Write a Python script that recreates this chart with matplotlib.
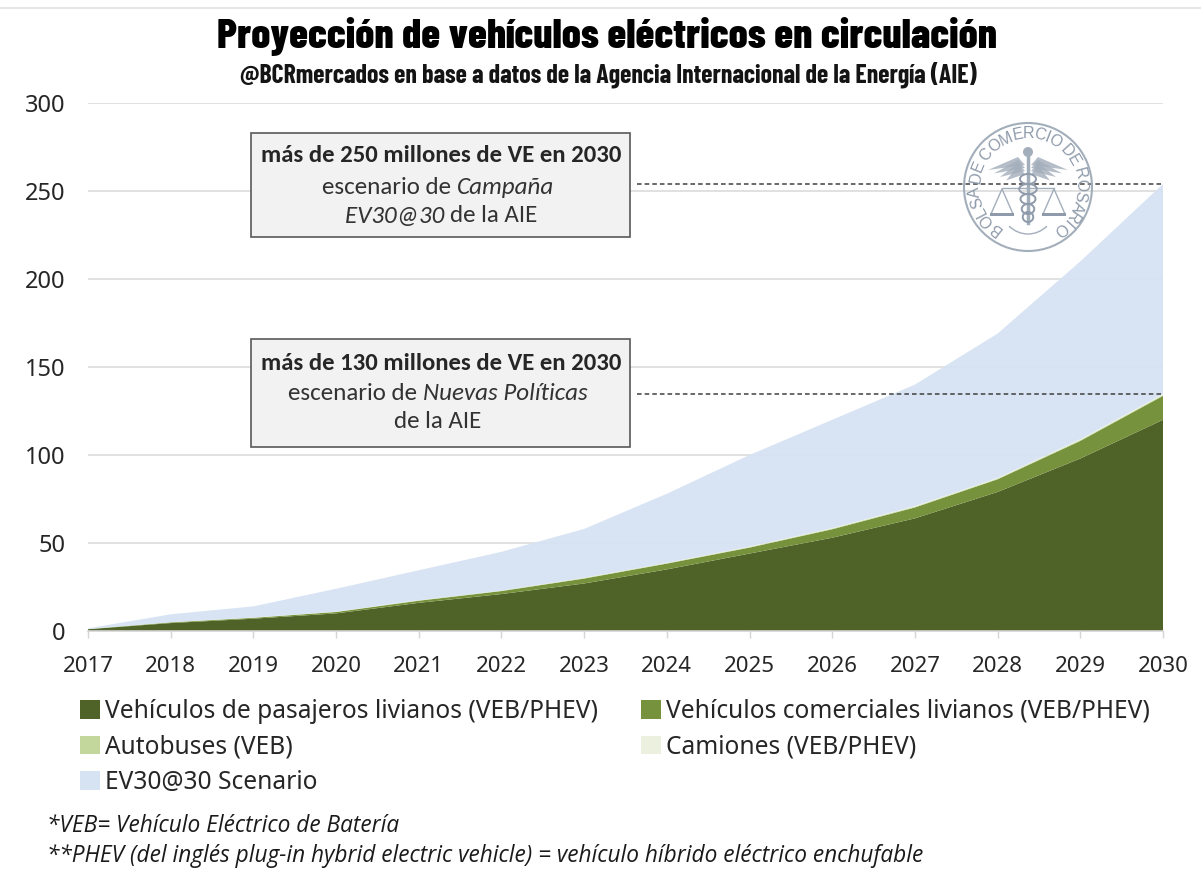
import numpy as np
import matplotlib
matplotlib.use('Agg')
import matplotlib.pyplot as plt
from matplotlib.patches import Rectangle, Circle, Arc, Patch

# datos
years = [2017, 2018, 2019, 2020, 2021, 2022, 2023, 2024, 2025, 2026, 2027, 2028, 2029, 2030]
pasajeros = [1, 4.5, 7, 10, 16, 21, 27, 35, 44, 53, 64, 79, 98, 120]
comerciales = [0.1, 0.4, 0.5, 0.8, 1.2, 1.7, 2.8, 3.3, 3.4, 4.8, 6.2, 7.2, 10, 13.6]
autobuses = [0, 0.05, 0.1, 0.1, 0.2, 0.2, 0.3, 0.3, 0.3, 0.4, 0.4, 0.4, 0.5, 0.5]
camiones = [0, 0.05, 0.1, 0.1, 0.1, 0.1, 0.2, 0.2, 0.3, 0.3, 0.4, 0.4, 0.5, 0.5]
ev30_total = [1.5, 9.5, 14, 24, 34.5, 45, 58, 78, 100, 120, 140, 169, 210, 254]
yticks = [0, 50, 100, 150, 200, 250, 300]

labels = ['Vehículos de pasajeros livianos (VEB/PHEV)', 'Vehículos comerciales livianos (VEB/PHEV)',
          'Autobuses (VEB)', 'Camiones (VEB/PHEV)', 'EV30@30 Scenario']
colors = ['#4f6228', '#76923c', '#c3d69b', '#ebf1de', '#d6e3f3']

W, H = 1201, 875
body = ['Noto Sans', 'DejaVu Sans']
narrow = ['Barlow Condensed', 'Liberation Sans', 'DejaVu Sans']
note = ['Carlito', 'Lato', 'DejaVu Sans']
fig = plt.figure(figsize=(W / 100, H / 100), dpi=100, facecolor='white')
ax = fig.add_axes([88 / W, 1 - 631 / H, 1075 / W, 528 / H])

base = np.array(pasajeros) + np.array(comerciales) + np.array(autobuses) + np.array(camiones)
ev30_extra = np.array(ev30_total) - base
areas = ax.stackplot(years, pasajeros, comerciales, autobuses, camiones, ev30_extra, colors=colors, linewidth=0, zorder=2)
areas[-1].set_alpha(0.95)

ax.set_xlim(2017, 2030)
ax.set_ylim(0, 300)
ax.set_xticks(years)
ax.set_yticks(yticks)
ax.set_axisbelow(True)
ax.grid(axis='y', color='#dcdcdc', lw=1.2, zorder=1)
for s in ['top', 'left', 'right']:
    ax.spines[s].set_visible(False)
ax.spines['bottom'].set_color('#d4d4d4')
ax.spines['bottom'].set_linewidth(1.2)
ax.spines['bottom'].set_zorder(5)
ax.tick_params(axis='x', length=5, width=1, color='#d4d4d4', labelsize=16, pad=13, labelcolor='#262626')
ax.tick_params(axis='y', length=0, labelsize=17, pad=16, labelcolor='#262626')
for t in ax.get_xticklabels() + ax.get_yticklabels():
    t.set_family(body)

# lineas punteadas de los dos escenarios
x_dash = 2017 + (637 - 88) / 1075 * 13
ax.plot([x_dash, 2030], [ev30_total[-1], ev30_total[-1]], color='#404040', lw=1.1, ls=(0, (3, 2)), zorder=6)
ax.plot([x_dash, 2030], [base[-1], base[-1]], color='#404040', lw=1.1, ls=(0, (3, 2)), zorder=6)

# capa en pixeles para textos, recuadros y logo
over = fig.add_axes([0, 0, 1, 1], facecolor='none')
over.set_xlim(0, W)
over.set_ylim(H, 0)
over.axis('off')

over.plot([0, W], [8, 8], color='#e6e6e6', lw=1.5)
over.text(607, 36, 'Proyección de vehículos eléctricos en circulación', family=narrow,
          weight=800, fontsize=30.5, ha='center', va='center', color='black')
over.text(608, 75, '@BCRmercados en base a datos de la Agencia Internacional de la Energía (AIE)',
          family=narrow, weight=700, fontsize=18.6, ha='center', va='center', color='#141414')


def mixed(cx, y, parts, size=18):
    # linea centrada con partes normales y en cursiva
    r = fig.canvas.get_renderer()
    items = [over.text(0, y, s, family=note, style=st, fontsize=size, va='center', color='#333333', zorder=4)
             for s, st in parts]
    widths = [t.get_window_extent(r).width for t in items]
    x = cx - sum(widths) / 2
    for t, w in zip(items, widths):
        t.set_x(x)
        x += w


for top, bottom in [(133, 237), (339, 447)]:
    over.add_patch(Rectangle((251, top), 379, bottom - top, fc='#f2f2f2', ec='#595959', lw=1.2, zorder=3))

over.text(441, 156, 'más de 250 millones de VE en 2030', family=note, weight='bold', fontsize=17.85,
          ha='center', va='center', color='#262626', zorder=4)
over.text(441, 363, 'más de 130 millones de VE en 2030', family=note, weight='bold', fontsize=17.85,
          ha='center', va='center', color='#262626', zorder=4)
mixed(438, 188, [('escenario de ', 'normal'), ('Campaña', 'italic')])
mixed(441, 216, [('EV30@30 ', 'italic'), ('de la AIE', 'normal')])
mixed(438, 394, [('escenario de ', 'normal'), ('Nuevas Políticas', 'italic')])
mixed(438, 422, [('de la AIE', 'normal')])

# logo de la Bolsa
logo = '#a3aebb'
cx, cy = 1028, 187
over.add_patch(Circle((cx, cy), 64, fc='none', ec=logo, lw=1.5, zorder=7))
ring = 'BOLSA DE COMERCIO DE ROSARIO'
# paso segun el ancho de cada letra
char_w = {' ': 0.3, 'I': 0.4, 'L': 0.8, 'E': 0.9, 'S': 0.9, 'A': 1.0, 'B': 0.95, 'M': 1.25, 'C': 1.05, 'O': 1.15,
          'D': 1.05, 'R': 1.0}
w = np.array([char_w[c] for c in ring])
steps = np.cumsum(w) - w / 2
angles = -142 + 284 * (steps - steps[0]) / (steps[-1] - steps[0])
for ch, a in zip(ring, angles):
    rad = np.radians(a)
    over.text(cx + 53 * np.sin(rad), cy - 53 * np.cos(rad), ch, rotation=-a, rotation_mode='anchor',
              ha='center', va='center', fontsize=11.5, family='Liberation Sans', color='#8f9bab', zorder=7)
over.plot([cx, cx], [cy - 32, cy + 36], color=logo, lw=2.5, zorder=7)
over.add_patch(Circle((cx, cy - 35), 5, fc=logo, ec='none', zorder=7))
for sign in [-1, 1]:
    # alas
    for k in range(4):
        over.fill([cx + sign * 3, cx + sign * (40 - 6 * k), cx + sign * 10],
                  [cy - 22 + 3 * k, cy - 17 + 3.5 * k, cy - 30 + 3 * k], color=logo, lw=0, alpha=0.8, zorder=7)
    # balanzas
    sx = cx + sign * 26
    over.plot([cx, sx], [cy + 1, cy + 1], color=logo, lw=1, zorder=7)
    over.plot([sx - 11, sx, sx + 11], [cy + 27, cy + 2, cy + 27], color=logo, lw=1, zorder=7)
    over.add_patch(Rectangle((sx - 12, cy + 26), 24, 3, fc='#8f9bab', ec='none', zorder=7))
for dy in [-8, 2, 12, 22, 30]:
    over.add_patch(Arc((cx, cy + dy), 18 - abs(dy) * 0.25, 10, fc='none', ec='#8f9bab', lw=1.4, zorder=7))
over.add_patch(Arc((cx, cy + 12), 60, 70, theta1=55, theta2=125, ec=logo, lw=1, zorder=7))

# leyenda: el orden va por columnas
order = [0, 2, 4, 1, 3]
handles = [Patch(fc=colors[i], ec='none') for i in order]
fig.legend(handles, [labels[i] for i in order], ncol=2, frameon=False, loc='upper left',
           bbox_to_anchor=(80 / W, 1 - 699 / H), borderpad=0, borderaxespad=0, handlelength=0.83, handleheight=0.8,
           handletextpad=0.2, columnspacing=1.75, labelspacing=0.43,
           prop={'family': body, 'size': 17.65}, labelcolor='#262626')

over.text(47, 826, '*VEB= Vehículo Eléctrico de Batería', family='Open Sans', style='italic', fontsize=16.3,
          va='center', color='#1a1a1a')
over.text(47, 856, '**PHEV (del inglés plug-in hybrid electric vehicle) = vehículo híbrido eléctrico enchufable',
          family='Open Sans', style='italic', fontsize=16.3, va='center', color='#1a1a1a')

fig.savefig('out.png', dpi=100)
